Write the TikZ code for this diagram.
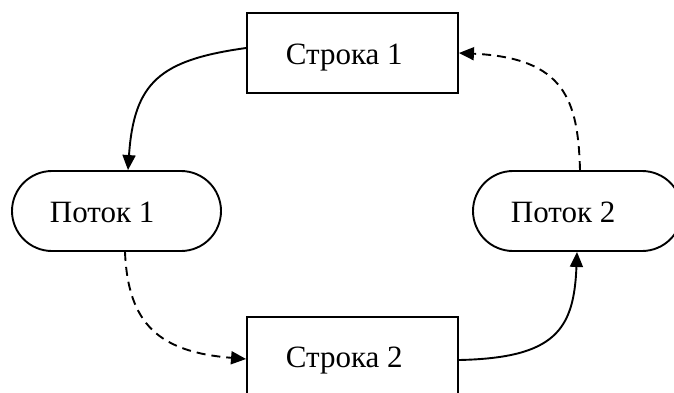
\documentclass[tikz,border=0pt]{standalone}
\usepackage{fontspec}
\setmainfont{Liberation Serif}
\usetikzlibrary{arrows.meta}
\begin{document}
\begin{tikzpicture}[x=1pt,y=-1pt,
  line width=1.9pt,
  rowbox/.style={draw,rectangle,minimum width=211pt,minimum height=80pt,inner sep=0pt},
  flowpill/.style={draw,rectangle,rounded corners=40pt,minimum width=209pt,minimum height=80pt,inner sep=0pt},
  lbl/.style={anchor=base west,inner sep=0pt,font=\fontsize{31}{36}\selectfont},
  link/.style={-{Triangle[length=15pt,width=13pt]}},
  dlink/.style={link,dash pattern=on 9pt off 6pt}]
\useasboundingbox (0,0) rectangle (674,392);
\clip (0,0) rectangle (674,392);

% rows and threads
\node[rowbox] (s1) at (352.5,53) {};
\node[rowbox] (s2) at (352.5,357) {};
\node[flowpill] (p1) at (116.5,211) {};
\node[flowpill] (p2) at (577.5,211) {};

\node[lbl] (s1t) at (285,64) {Строка 1};
\node[lbl] (s2t) at (285,367) {Строка 2};
\node[lbl] (p1t) at (49,222) {Поток 1};
\node[lbl] (p2t) at (510,222) {Поток 2};

% connectors
\draw[link] ([yshift=5pt]s1.west) .. controls (160,60) and (134,82) .. ([xshift=11.5pt]p1.north);
\draw[dlink] ([xshift=8.5pt]p1.south) .. controls (128,325) and (160,352) .. ([yshift=-2pt]s2.west);
\draw[link] ([yshift=-3pt]s2.east) .. controls (555,358) and (574,330) .. ([xshift=-0.5pt]p2.south);
\draw[dlink] ([xshift=2.5pt]p2.north) .. controls (578,100) and (565,58) .. (s1.east);
\end{tikzpicture}
\end{document}
